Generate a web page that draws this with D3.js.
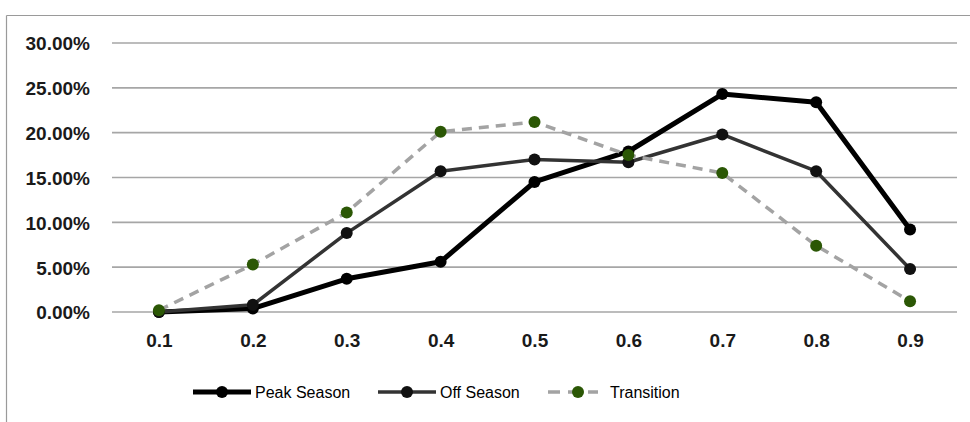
<html>

<head>
    <title>Season distribution</title>
    <script src="https://d3js.org/d3.v7.min.js"></script>
    <style>
        body { margin: 0; background: #fff; }
        text { font-family: "Liberation Sans", Arial, sans-serif; }
    </style>
</head>

<body>
    <script>
        const categories = ['0.1', '0.2', '0.3', '0.4', '0.5', '0.6', '0.7', '0.8', '0.9']
        const yTicks = [0, 0.05, 0.10, 0.15, 0.20, 0.25, 0.30]

        const peakSeason = [0.000, 0.004, 0.037, 0.056, 0.145, 0.179, 0.243, 0.234, 0.092]
        const offSeason = [0.000, 0.008, 0.088, 0.157, 0.170, 0.167, 0.198, 0.157, 0.048]
        const transition = [0.002, 0.053, 0.111, 0.201, 0.212, 0.175, 0.155, 0.074, 0.012]

        const seriesNames = ['Peak Season', 'Off Season', 'Transition']

        const series = [
            { name: seriesNames[0], values: peakSeason, stroke: '#000', width: 5, dash: null, dot: '#000' },
            { name: seriesNames[1], values: offSeason, stroke: '#333', width: 3.5, dash: null, dot: '#111' },
            { name: seriesNames[2], values: transition, stroke: '#a3a3a3', width: 3.5, dash: '10,7', dot: '#2b5705' }
        ]

        const width = 970, height = 422

        const svg = d3.select('body').append('svg')
            .attr('width', width)
            .attr('height', height)

        // outer frame (top and left edges visible)
        svg.append('line')
            .attr('x1', 6.5).attr('y1', 15.5).attr('x2', width).attr('y2', 15.5)
            .attr('stroke', '#9a9a9a').attr('stroke-width', 1.2)
        svg.append('line')
            .attr('x1', 6.5).attr('y1', 15.5).attr('x2', 6.5).attr('y2', height)
            .attr('stroke', '#9a9a9a').attr('stroke-width', 1.2)

        const x = d3.scalePoint()
            .domain(categories)
            .range([112, 957])
            .padding(0.5)

        const y = d3.scaleLinear()
            .domain([0, 0.30])
            .range([312, 43])

        // gridlines
        svg.append('g')
            .selectAll('line')
            .data(yTicks)
            .enter()
            .append('line')
            .attr('x1', 112)
            .attr('x2', 957)
            .attr('y1', d => y(d))
            .attr('y2', d => y(d))
            .attr('stroke', '#a6a6a6')
            .attr('stroke-width', 1.6)

        // y axis
        const yAxis = svg.append('g')
            .attr('transform', 'translate(112,0)')
            .call(d3.axisLeft(y).tickValues(yTicks).tickSize(0).tickPadding(22)
                .tickFormat(d => (d * 100).toFixed(2) + '%'))
        yAxis.select('.domain').remove()
        yAxis.selectAll('text')
            .attr('font-size', 19)
            .attr('font-weight', 'bold')
            .attr('fill', '#1a1a1a')
            .attr('dy', '0.36em')

        // x axis
        const xAxis = svg.append('g')
            .attr('transform', 'translate(0,312)')
            .call(d3.axisBottom(x).tickSize(0).tickPadding(30))
        xAxis.select('.domain').remove()
        xAxis.selectAll('text')
            .attr('font-size', 19)
            .attr('font-weight', 'bold')
            .attr('fill', '#1a1a1a')
            .attr('dy', '0.25em')

        const line = d3.line()
            .x((d, i) => x(categories[i]))
            .y(d => y(d))

        series.forEach(s => {
            const g = svg.append('g')
            g.append('path')
                .datum(s.values)
                .attr('d', line)
                .attr('fill', 'none')
                .attr('stroke', s.stroke)
                .attr('stroke-width', s.width)
                .attr('stroke-dasharray', s.dash)
                .attr('stroke-linejoin', 'round')
            g.selectAll('circle')
                .data(s.values)
                .enter()
                .append('circle')
                .attr('cx', (d, i) => x(categories[i]))
                .attr('cy', d => y(d))
                .attr('r', 6)
                .attr('fill', s.dot)
        })

        // legend
        const legendX = [193, 378, 548]
        const legend = svg.append('g')
            .selectAll('g')
            .data(series)
            .enter()
            .append('g')
            .attr('transform', (d, i) => 'translate(' + legendX[i] + ',392)')

        legend.append('line')
            .attr('x1', 0).attr('x2', (d, i) => i === 2 ? 50 : 58)
            .attr('y1', 0).attr('y2', 0)
            .attr('stroke', d => d.stroke)
            .attr('stroke-width', d => d.width)
            .attr('stroke-dasharray', d => d.dash ? '12,8' : null)
        legend.append('circle')
            .attr('cx', (d, i) => i === 2 ? 30 : 29)
            .attr('cy', 0)
            .attr('r', 6)
            .attr('fill', d => d.dot)
        legend.append('text')
            .attr('x', 62)
            .attr('y', 0)
            .attr('dy', '0.35em')
            .attr('font-size', 16)
            .attr('fill', '#000')
            .text(d => d.name)
    </script>
</body>

</html>
